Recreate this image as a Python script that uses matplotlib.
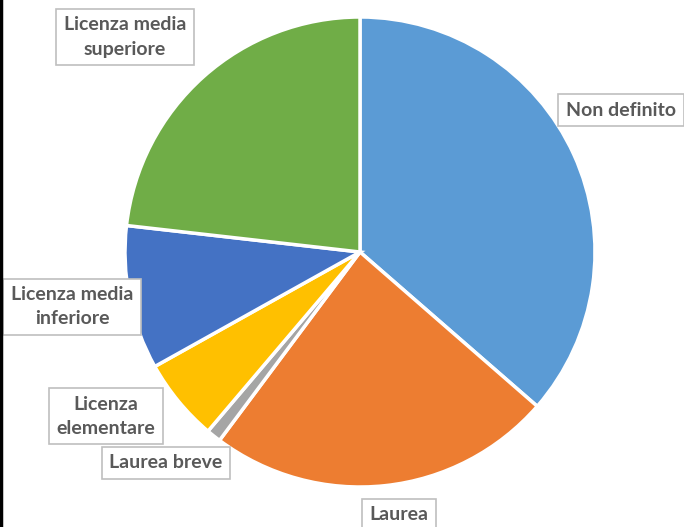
import matplotlib
matplotlib.use("Agg")
import matplotlib.pyplot as plt
from matplotlib.lines import Line2D

categories = ["Non definito", "Laurea", "Laurea breve", "Licenza elementare",
              "Licenza media inferiore", "Licenza media superiore"]
shares = [36.4, 23.8, 1.0, 5.7, 9.9, 23.2]
colors = ["#5B9BD5", "#ED7D31", "#A5A5A5", "#FFC000", "#4472C4", "#70AD47"]
label_text = ["Non definito", "Laurea", "Laurea breve", "Licenza\nelementare",
              "Licenza media\ninferiore", "Licenza media\nsuperiore"]
# label centres in pixel coords (from top-left)
label_pos = [(621, 110), (399, 515), (166, 463), (106, 416), (72, 307), (125, 37)]

W, H = 684, 527
fig = plt.figure(figsize=(W / 100, H / 100), dpi=100)
ax = fig.add_axes([0, 0, 1, 1])

ax.pie(shares, colors=colors, startangle=90, counterclock=False,
       center=(360, H - 252), radius=235, frame=True,
       wedgeprops=dict(edgecolor="white", linewidth=2.5))
ax.set_xlim(0, W)
ax.set_ylim(0, H)
ax.axis("off")

for txt, (x, y) in zip(label_text, label_pos):
    ax.text(x, H - y, txt, ha="center", va="center", fontsize=14,
            fontweight="bold", family="Lato", color="#595959",
            linespacing=1.5,
            bbox=dict(boxstyle="square,pad=0.4", facecolor="white",
                      edgecolor="#BFBFBF", linewidth=1.2))

fig.add_artist(Line2D([0.002, 0.002], [0, 1], color="black", linewidth=2.5,
                      transform=fig.transFigure))

fig.savefig("out.png", dpi=100)
